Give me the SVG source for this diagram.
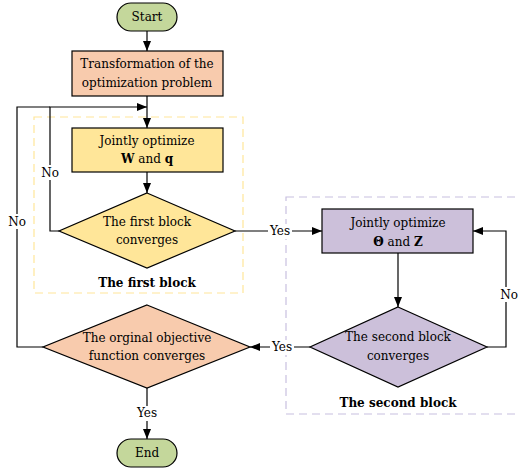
<svg xmlns="http://www.w3.org/2000/svg" width="518" height="472" viewBox="0 0 518 472">
<style>
text{font-family:"DejaVu Serif","Liberation Serif",serif;font-size:12px;fill:#000;text-anchor:middle}
.b{font-weight:bold}
.n{stroke:#000;stroke-width:1.2}
.c{fill:none;stroke:#000;stroke-width:1.2}
.lb{fill:#fff;stroke:none}
</style>
<defs>
<marker id="ah" markerWidth="10" markerHeight="8" refX="10" refY="4" orient="auto" markerUnits="userSpaceOnUse">
<path d="M0,0L10,4L0,8Z" fill="#000"/>
</marker>
</defs>
<g id="blocks">
<rect x="34" y="117" width="209" height="176" fill="none" stroke="#ffe699" stroke-width="1.2" stroke-dasharray="8,5"/>
<rect x="286" y="197" width="240" height="217" fill="none" stroke="#c8c0e0" stroke-width="1.2" stroke-dasharray="8,5"/>
<text class="b" x="147" y="287">The first block</text>
<text class="b" x="398" y="407">The second block</text>
</g>
<g id="connectors">
<line class="c" x1="147" y1="31" x2="147" y2="51" marker-end="url(#ah)"/>
<line class="c" x1="147" y1="96" x2="147" y2="128" marker-end="url(#ah)"/>
<line class="c" x1="147" y1="172" x2="147" y2="193" marker-end="url(#ah)"/>
<polyline class="c" points="59,231 50,231 50,107 147,107" marker-end="url(#ah)"/>
<polyline class="c" points="43,347 17,347 17,107 50,107"/>
<line class="c" x1="235" y1="231" x2="322" y2="231" marker-end="url(#ah)"/>
<line class="c" x1="398" y1="253" x2="398" y2="307" marker-end="url(#ah)"/>
<polyline class="c" points="487,347 506,347 506,231 473,231" marker-end="url(#ah)"/>
<line class="c" x1="310" y1="347" x2="250" y2="347" marker-end="url(#ah)"/>
<line class="c" x1="147" y1="388" x2="147" y2="439" marker-end="url(#ah)"/>
<rect class="lb" x="40" y="165" width="20" height="15"/>
<text x="50" y="177">No</text>
<rect class="lb" x="7" y="214" width="20" height="15"/>
<text x="17" y="226">No</text>
<rect class="lb" x="268" y="224" width="24" height="15"/>
<text x="280" y="235">Yes</text>
<rect class="lb" x="270" y="340" width="24" height="15"/>
<text x="282" y="351">Yes</text>
<rect class="lb" x="135" y="406" width="24" height="15"/>
<text x="147" y="417">Yes</text>
<rect class="lb" x="499" y="287" width="18" height="15"/>
<text x="509" y="299">No</text>
</g>
<g id="start">
<rect class="n" x="117" y="3" width="60" height="28" rx="14" fill="#c4d79b"/>
<text x="147" y="21">Start</text>
</g>
<g id="transform">
<rect class="n" x="72" y="51" width="151" height="45" fill="#f8cbad"/>
<text x="147" y="68">Transformation of the</text>
<text x="147" y="87">optimization problem</text>
</g>
<g id="optWq">
<rect class="n" x="72" y="128" width="151" height="44" fill="#ffe699"/>
<text x="147" y="145">Jointly optimize</text>
<text x="147" y="163"><tspan class="b">W</tspan> and <tspan class="b">q</tspan></text>
</g>
<g id="first">
<polygon class="n" points="147,193 235,231 147,268 59,231" fill="#ffe699"/>
<text x="147" y="226">The first block</text>
<text x="147" y="244">converges</text>
</g>
<g id="optTZ">
<rect class="n" x="322" y="209" width="151" height="44" fill="#ccc0da"/>
<text x="398" y="227">Jointly optimize</text>
<text x="398" y="246"><tspan class="b">Θ</tspan> and <tspan class="b">Z</tspan></text>
</g>
<g id="second">
<polygon class="n" points="398,307 487,347 398,387 310,347" fill="#ccc0da"/>
<text x="398" y="341">The second block</text>
<text x="398" y="360">converges</text>
</g>
<g id="original">
<polygon class="n" points="147,305 250,347 147,388 43,347" fill="#f8cbad"/>
<text x="147" y="342">The orginal objective</text>
<text x="147" y="360">function converges</text>
</g>
<g id="end">
<rect class="n" x="117" y="439" width="60" height="28" rx="14" fill="#c4d79b"/>
<text x="147" y="457">End</text>
</g>
</svg>
